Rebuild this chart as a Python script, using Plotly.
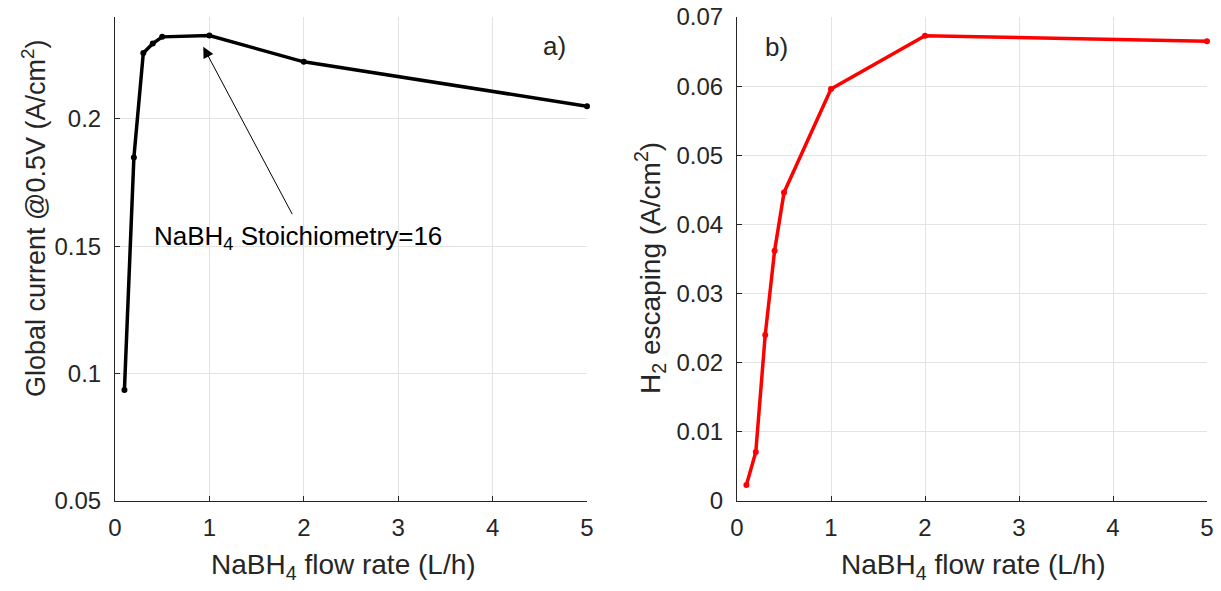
import plotly.graph_objects as go

flow_rate = [0.1, 0.2, 0.3, 0.4, 0.5, 1, 2, 5]
global_current = [0.0936, 0.1848, 0.2259, 0.2296, 0.2322, 0.2327, 0.2224, 0.2050]
h2_escaping = [0.0023, 0.0071, 0.0240, 0.0362, 0.0446, 0.0596, 0.0673, 0.0665]

x_ticks = [0, 1, 2, 3, 4, 5]
y1_ticks = [0.05, 0.1, 0.15, 0.2]
y1_labels = ["0.05", "0.1", "0.15", "0.2"]
y2_ticks = [0, 0.01, 0.02, 0.03, 0.04, 0.05, 0.06, 0.07]
y2_labels = ["0", "0.01", "0.02", "0.03", "0.04", "0.05", "0.06", "0.07"]

FONT = "Liberation Sans, Arial, sans-serif"
AX = "#262626"
GRID = "#e3e3e3"
W, H = 1221, 591

fig = go.Figure()
fig.add_trace(go.Scatter(x=flow_rate, y=global_current, mode="lines+markers",
                         line=dict(color="black", width=3.5),
                         marker=dict(color="black", size=6), cliponaxis=False,
                         xaxis="x", yaxis="y", showlegend=False))
fig.add_trace(go.Scatter(x=flow_rate, y=h2_escaping, mode="lines+markers",
                         line=dict(color="#ff0000", width=3.5),
                         marker=dict(color="#ff0000", size=6), cliponaxis=False,
                         xaxis="x2", yaxis="y2", showlegend=False))

ydom = [1 - 501 / H, 1 - 17 / H]
common_x = dict(range=[0, 5], tickvals=x_ticks, ticks="inside", ticklen=5, tickcolor=AX,
                showline=True, linecolor=AX, linewidth=1, showgrid=True, gridcolor=GRID,
                gridwidth=1, zeroline=False, tickfont=dict(family=FONT, size=24, color=AX),
                ticklabelstandoff=5, automargin=False)
common_y = dict(ticks="inside", ticklen=5, tickcolor=AX, showline=True, linecolor=AX,
                linewidth=1, showgrid=True, gridcolor=GRID, gridwidth=1, zeroline=False,
                tickfont=dict(family=FONT, size=24, color=AX), ticklabelstandoff=8,
                automargin=False)

fig.update_layout(
    width=W, height=H, margin=dict(l=0, r=0, t=0, b=0),
    paper_bgcolor="white", plot_bgcolor="white",
    xaxis=dict(domain=[115 / W, 587 / W], anchor="y", **common_x),
    yaxis=dict(domain=ydom, range=[0.05, 0.24], tickvals=y1_ticks, ticktext=y1_labels,
               anchor="x", **common_y),
    xaxis2=dict(domain=[737 / W, 1207 / W], anchor="y2", **common_x),
    yaxis2=dict(domain=ydom, range=[0, 0.07], tickvals=y2_ticks, ticktext=y2_labels,
                anchor="x2", **common_y),
)

tfont = dict(family=FONT, size=28, color=AX)
ann = [
    dict(text="NaBH<sub>4</sub> flow rate (L/h)", x=343 / W, y=1 - 566 / H),
    dict(text="NaBH<sub>4</sub> flow rate (L/h)", x=973 / W, y=1 - 566 / H),
    dict(text="Global current @0.5V (A/cm<sup>2</sup>)", x=34 / W, y=1 - 218 / H,
         textangle=-90, font=dict(family=FONT, size=27, color=AX)),
    dict(text="H<sub>2</sub> escaping (A/cm<sup>2</sup>)", x=650 / W, y=1 - 268 / H,
         textangle=-90),
]
for a in ann:
    a.update(xref="paper", yref="paper", showarrow=False, xanchor="center",
             yanchor="middle")
    a.setdefault("font", tfont)

ann += [
    dict(text="a)", x=4.66, y=0.2286, xref="x", yref="y", showarrow=False,
         font=dict(family=FONT, size=26, color=AX)),
    dict(text="b)", x=0.42, y=0.0656, xref="x2", yref="y2", showarrow=False,
         font=dict(family=FONT, size=26, color=AX)),
    dict(text="", x=0.935, y=0.2283, ax=1.886, ay=0.162, xref="x", yref="y",
         axref="x", ayref="y", showarrow=True, arrowhead=2, arrowsize=2.2,
         arrowwidth=1, arrowcolor="black"),
    dict(text="NaBH<sub>4</sub> Stoichiometry=16", x=0.39, y=0.1535, xref="x", yref="y",
         xanchor="left", showarrow=False, font=dict(family=FONT, size=26, color="black")),
]
fig.update_layout(annotations=ann)

fig.write_html("out.html")
